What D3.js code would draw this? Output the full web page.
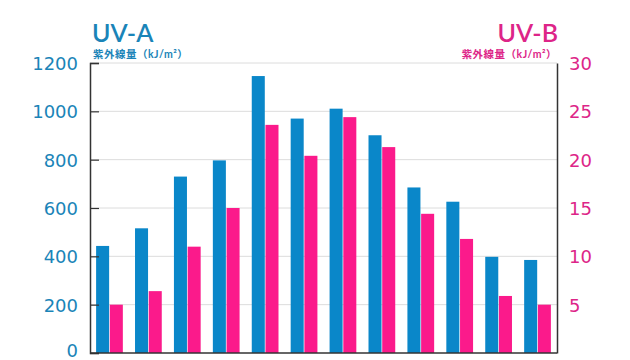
<!DOCTYPE html>
<html><head><meta charset="utf-8">
<script src="https://cdn.jsdelivr.net/npm/d3@7"></script>
<style>
html,body{margin:0;padding:0;background:#fff;}
svg{display:block;}
</style></head>
<body>
<svg id="chart" width="630" height="360"></svg>
<script>
const months = ["1月","2月","3月","4月","5月","6月","7月","8月","9月","10月","11月","12月"];
const uvA = [443, 516, 730, 797, 1146, 970, 1011, 901, 685, 626, 398, 385];
const uvB = [5.0, 6.4, 11.0, 15.0, 23.6, 20.4, 24.4, 21.3, 14.4, 11.8, 5.9, 5.0];
const leftTicks = [0, 200, 400, 600, 800, 1000, 1200];
const rightTicks = [5, 10, 15, 20, 25, 30];

const blue = "#0a87c9", pink = "#fb1a8b";
const blueText = "#1a84b8", pinkText = "#dd2588";
const font = "'DejaVu Sans', sans-serif";
const titleFont = "Lato, 'Open Sans', sans-serif";
const subFont = "Lato, 'Noto Sans CJK JP', sans-serif";

const svg = d3.select("#chart");
const m = {l: 90, r: 73, t: 63, b: 7};
const W = 630, H = 360;
const x = d3.scaleBand().domain(months).range([m.l, W - m.r]).paddingInner(0.313).paddingOuter(0.157);
const xs = d3.scaleBand().domain(["A","B"]).range([0, x.bandwidth()]).paddingInner(0.05);
const yL = d3.scaleLinear().domain([0, 1200]).range([H - m.b, m.t]);
const yR = d3.scaleLinear().domain([0, 30]).range([H - m.b, m.t]);

// gridlines
svg.append("g").selectAll("line").data(leftTicks.slice(1)).join("line")
  .attr("x1", m.l).attr("x2", W - m.r)
  .attr("y1", d => yL(d)).attr("y2", d => yL(d))
  .attr("stroke", "#dcdcdc").attr("stroke-width", 1);

// bars
const g = svg.append("g");
g.selectAll("rect.a").data(months).join("rect").attr("class","a")
  .attr("x", d => x(d) + xs("A")).attr("width", xs.bandwidth())
  .attr("y", (d,i) => yL(uvA[i])).attr("height", (d,i) => yL(0) - yL(uvA[i]))
  .attr("fill", blue);
g.selectAll("rect.b").data(months).join("rect").attr("class","b")
  .attr("x", d => x(d) + xs("B")).attr("width", xs.bandwidth())
  .attr("y", (d,i) => yR(uvB[i])).attr("height", (d,i) => yR(0) - yR(uvB[i]))
  .attr("fill", pink);

// left axis
const axL = svg.append("g").attr("transform", `translate(${m.l},0)`)
  .call(d3.axisLeft(yL).tickValues(leftTicks).tickFormat(d3.format("d")).tickSize(-9).tickPadding(13));
axL.select(".domain").attr("stroke", "#333").attr("stroke-width", 1.5);
axL.selectAll(".tick line").attr("stroke", "#333").attr("stroke-width", 1.2);
axL.selectAll(".tick text").attr("fill", blueText).attr("font-family", font)
  .attr("font-size", 18).attr("dy", "0.36em").attr("x", -12);
axL.selectAll(".tick").filter(d => d === 0).select("text").attr("dy", "0.2em");

// right axis
const axR = svg.append("g").attr("transform", `translate(${W - m.r},0)`)
  .call(d3.axisRight(yR).tickValues(rightTicks).tickSize(0).tickPadding(12));
axR.select(".domain").attr("stroke", "#333").attr("stroke-width", 1.5);
axR.selectAll(".tick text").attr("fill", pinkText).attr("font-family", font)
  .attr("font-size", 18).attr("dy", "0.36em");

// bottom axis line
svg.append("line").attr("x1", m.l).attr("x2", W - m.r)
  .attr("y1", yL(0)).attr("y2", yL(0)).attr("stroke", "#333").attr("stroke-width", 1.5);

// titles
svg.append("text").attr("x", 92).attr("y", 42).text("UV-A")
  .attr("fill", blueText).attr("font-family", titleFont).attr("font-weight", 600).attr("font-size", 25);
svg.append("text").attr("x", 93).attr("y", 57.5).text("紫外線量（kJ/m²）")
  .attr("fill", blueText).attr("font-family", subFont).attr("font-size", 10.5).attr("letter-spacing", 0.5).attr("font-weight", "bold");
svg.append("text").attr("x", 558).attr("y", 42).attr("text-anchor", "end").text("UV-B")
  .attr("fill", pinkText).attr("font-family", titleFont).attr("font-weight", 600).attr("font-size", 25);
svg.append("text").attr("x", 557).attr("y", 57.5).attr("text-anchor", "end").text("紫外線量（kJ/m²）")
  .attr("fill", pinkText).attr("font-family", subFont).attr("font-size", 10.5).attr("letter-spacing", 0.5).attr("font-weight", "bold");
</script>
</body></html>
